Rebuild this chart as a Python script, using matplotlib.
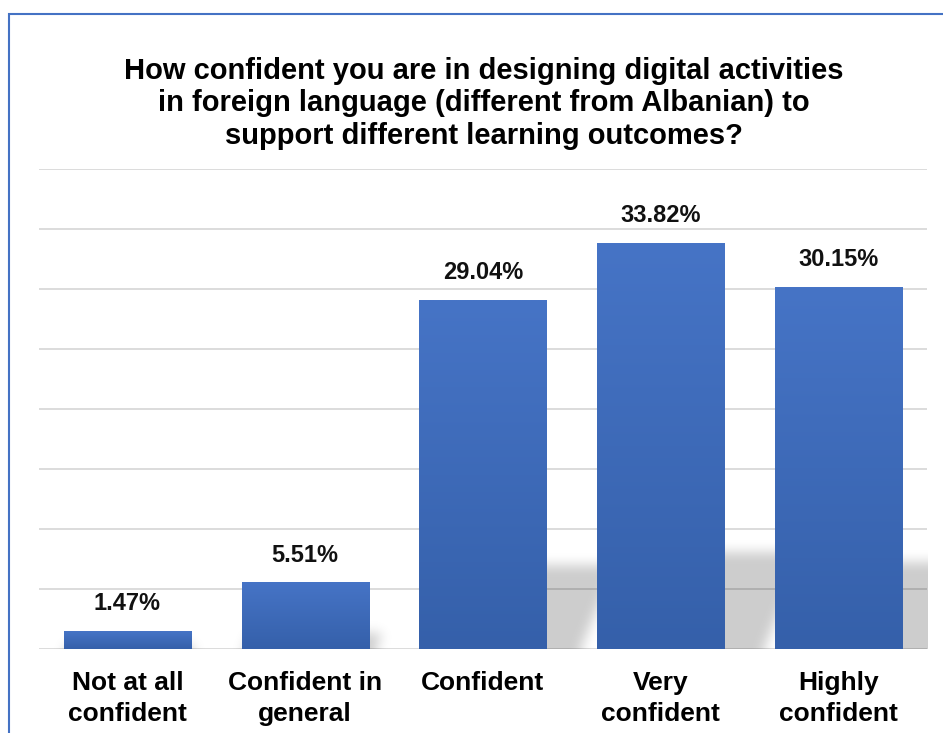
import numpy as np
import matplotlib.pyplot as plt
from matplotlib.colors import LinearSegmentedColormap
from matplotlib.patches import Rectangle

plt.rcParams['font.family'] = ['Liberation Sans', 'DejaVu Sans']

# ---------- Data ----------
categories = ["Not at all\nconfident", "Confident in\ngeneral", "Confident",
              "Very\nconfident", "Highly\nconfident"]
values = [1.47, 5.51, 29.04, 33.82, 30.15]
labels = ["1.47%", "5.51%", "29.04%", "33.82%", "30.15%"]
title = ("How confident you are in designing digital activities\n"
         "in foreign language (different from Albanian) to\n"
         "support different learning outcomes?")

# ---------- Figure ----------
fig = plt.figure(figsize=(9.43, 7.33), dpi=100)
ax = fig.add_axes([0.0409, 0.1146, 0.9425, 0.6548])

# outer frame (only left/top visible in the original crop)
fig.patches.append(Rectangle((9 / 943, -0.1), 1.2, 1 - 14 / 733 + 0.1,
                             transform=fig.transFigure, fill=False,
                             edgecolor="#4472c4", linewidth=1.5))

x = np.arange(len(values))
width = 0.715
xlim = (-0.5, 4.5)
ylim = (0, 40)

# ---------- soft perspective shadows (raster, blurred) ----------
W, H = 889, 480                      # plot area size in pixels
px_per_x = W / (xlim[1] - xlim[0])
px_per_y = H / (ylim[1] - ylim[0])
gx, gy = np.meshgrid(np.arange(W) + 0.5, np.arange(H) + 0.5)
mask = np.zeros((H, W))
for xi, v in zip(x, values):
    top = 0.24 * v * px_per_y
    off = 0.4 * top
    left = (xi - width / 2 - xlim[0]) * px_per_x + off / 3
    right = (xi + width / 2 - xlim[0]) * px_per_x + off
    shift = 0.42 * gy
    inside = (gy <= top) & (gx >= left + shift) & (gx <= right + shift)
    mask[inside] = 1.0


def blur(a, sigma, axis):
    k = np.arange(-3 * sigma, 3 * sigma + 1)
    k = np.exp(-0.5 * (k / sigma) ** 2)
    k /= k.sum()
    pad = len(k) // 2
    a = np.pad(a, [(pad, pad) if i == axis else (0, 0) for i in range(2)],
               mode="edge")
    return np.apply_along_axis(lambda r: np.convolve(r, k, mode="valid"),
                               axis, a)


mask = blur(blur(mask, 6, 0), 6, 1)
shadow = np.zeros((H, W, 4))
shadow[..., 3] = 0.2 * mask
ax.imshow(shadow, origin="lower", aspect="auto",
          extent=(xlim[0], xlim[1], ylim[0], ylim[1]), zorder=2.5)

# ---------- bars ----------
cmap = LinearSegmentedColormap.from_list("bar", ["#3560aa", "#4674c6"])
grad = np.linspace(0, 1, 256).reshape(-1, 1)
for xi, v, lab in zip(x, values, labels):
    ax.imshow(grad, cmap=cmap, origin="lower", aspect="auto",
              extent=(xi - width / 2, xi + width / 2, 0, v), zorder=3)
    ax.text(xi, v + 1.35, lab, ha="center", va="bottom",
            fontsize=17, fontweight="bold", color="#111111")

ax.set_xlim(*xlim)
ax.set_ylim(*ylim)
ax.set_yticks(np.arange(0, 41, 5))
ax.yaxis.grid(True, color="#d9d9d9", linewidth=1.3, zorder=2)
ax.tick_params(axis="y", left=False, labelleft=False)
ax.tick_params(axis="x", length=0, pad=15.5)
ax.set_xticks(x)
ax.set_xticklabels(categories, fontsize=19, fontweight="bold",
                   linespacing=1.39)
for s_ in ax.spines.values():
    s_.set_visible(False)

fig.text(0.513, 0.922, title, ha="center", va="top", fontsize=21,
         fontweight="bold", linespacing=1.19)

fig.savefig("out.png", dpi=100)
